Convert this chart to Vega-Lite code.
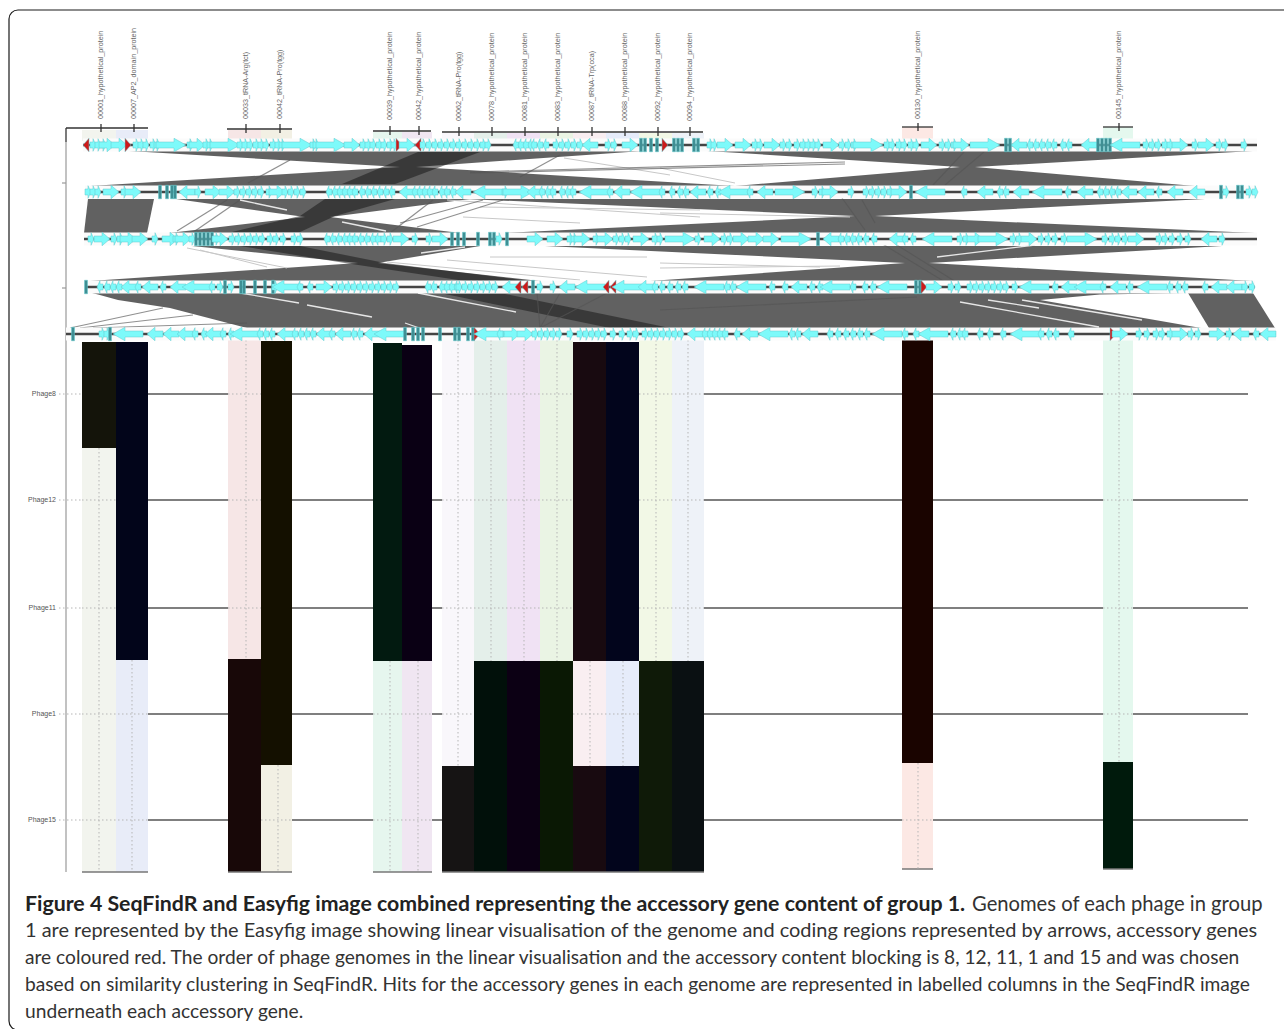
{"$schema":"https://vega.github.io/schema/vega-lite/v6.json","width":1284,"height":1029,"padding":0,"autosize":"none","background":"white","config":{"view":{"stroke":null},"axis":{"disable":true},"legend":{"disable":true},"text":{"font":"Lato"}},
"datasets":{
"cells":[
{"k":"a1","x":82,"x2":116,"y":342,"y2":448},{"k":"b1","x":82,"x2":116,"y":448,"y2":872},
{"k":"a2","x":116,"x2":148,"y":342,"y2":660},{"k":"b2","x":116,"x2":148,"y":660,"y2":872},
{"k":"b3","x":228,"x2":261,"y":340,"y2":659},{"k":"a3","x":228,"x2":261,"y":659,"y2":872},
{"k":"a4","x":261,"x2":292,"y":341,"y2":765},{"k":"b4","x":261,"x2":292,"y":765,"y2":872},
{"k":"a5","x":373,"x2":402,"y":343,"y2":661},{"k":"b5","x":373,"x2":402,"y":661,"y2":872},
{"k":"a6","x":402,"x2":432,"y":345,"y2":661},{"k":"b6","x":402,"x2":432,"y":661,"y2":872},
{"k":"b7","x":442,"x2":474,"y":340,"y2":766},{"k":"a7","x":442,"x2":474,"y":766,"y2":872},
{"k":"b8","x":474,"x2":507,"y":340,"y2":661},{"k":"a8","x":474,"x2":507,"y":661,"y2":872},
{"k":"b9","x":507,"x2":540,"y":340,"y2":661},{"k":"a9","x":507,"x2":540,"y":661,"y2":872},
{"k":"b10","x":540,"x2":573,"y":340,"y2":661},{"k":"a10","x":540,"x2":573,"y":661,"y2":872},
{"k":"a11","x":573,"x2":606,"y":342,"y2":661},{"k":"b11","x":573,"x2":606,"y":661,"y2":766},{"k":"a11","x":573,"x2":606,"y":766,"y2":872},
{"k":"a12","x":606,"x2":639,"y":342,"y2":661},{"k":"b12","x":606,"x2":639,"y":661,"y2":766},{"k":"a12","x":606,"x2":639,"y":766,"y2":872},
{"k":"b13","x":639,"x2":672,"y":340,"y2":661},{"k":"a13","x":639,"x2":672,"y":661,"y2":872},
{"k":"b14","x":672,"x2":704,"y":340,"y2":661},{"k":"a14","x":672,"x2":704,"y":661,"y2":872},
{"k":"a15","x":902,"x2":933,"y":340,"y2":763},{"k":"b15","x":902,"x2":933,"y":763,"y2":869},
{"k":"b16","x":1103,"x2":1133,"y":340,"y2":762},{"k":"a16","x":1103,"x2":1133,"y":762,"y2":869},
{"k":"b1","x":82,"x2":116,"y":130,"y2":141},{"k":"b2","x":116,"x2":148,"y":130,"y2":141},{"k":"b3","x":228,"x2":261,"y":130,"y2":140},{"k":"b4","x":261,"x2":292,"y":130,"y2":140},{"k":"b5","x":373,"x2":402,"y":132,"y2":140},{"k":"b6","x":402,"x2":432,"y":132,"y2":140},{"k":"b7","x":442,"x2":474,"y":133,"y2":140},{"k":"b8","x":474,"x2":507,"y":133,"y2":140},{"k":"b9","x":507,"x2":540,"y":133,"y2":140},{"k":"b10","x":540,"x2":573,"y":133,"y2":140},{"k":"b11","x":573,"x2":606,"y":133,"y2":140},{"k":"b12","x":606,"x2":639,"y":133,"y2":140},{"k":"b13","x":639,"x2":672,"y":133,"y2":140},{"k":"b14","x":672,"x2":704,"y":133,"y2":140},{"k":"b15","x":902,"x2":933,"y":127,"y2":140},{"k":"b16","x":1103,"x2":1133,"y":127,"y2":140}],
"phage":[{"n":"Phage8","y":394,"x":82,"x2":1248,"l":56},{"n":"Phage12","y":500,"x":82,"x2":1248,"l":56},{"n":"Phage11","y":608,"x":82,"x2":1248,"l":56},{"n":"Phage1","y":714,"x":82,"x2":1248,"l":56},{"n":"Phage15","y":820,"x":82,"x2":1248,"l":56}],
"dots":[{"x":59,"x2":82,"y":394,"y2":394},{"x":59,"x2":82,"y":500,"y2":500},{"x":59,"x2":82,"y":608,"y2":608},{"x":59,"x2":82,"y":714,"y2":714},{"x":59,"x2":82,"y":820,"y2":820},
{"x":82,"x2":116,"y":500,"y2":500},{"x":82,"x2":116,"y":608,"y2":608},{"x":82,"x2":148,"y":714,"y2":714},{"x":82,"x2":148,"y":820,"y2":820},{"x":228,"x2":261,"y":394,"y2":394},{"x":228,"x2":261,"y":500,"y2":500},{"x":228,"x2":261,"y":608,"y2":608},{"x":261,"x2":292,"y":820,"y2":820},{"x":373,"x2":432,"y":714,"y2":714},{"x":373,"x2":432,"y":820,"y2":820},{"x":442,"x2":474,"y":394,"y2":394},{"x":442,"x2":474,"y":500,"y2":500},{"x":442,"x2":474,"y":608,"y2":608},{"x":442,"x2":474,"y":714,"y2":714},{"x":474,"x2":573,"y":394,"y2":394},{"x":474,"x2":573,"y":500,"y2":500},{"x":474,"x2":573,"y":608,"y2":608},{"x":573,"x2":639,"y":714,"y2":714},{"x":639,"x2":704,"y":394,"y2":394},{"x":639,"x2":704,"y":500,"y2":500},{"x":639,"x2":704,"y":608,"y2":608},{"x":902,"x2":933,"y":820,"y2":820},{"x":1103,"x2":1133,"y":394,"y2":394},{"x":1103,"x2":1133,"y":500,"y2":500},{"x":1103,"x2":1133,"y":608,"y2":608},{"x":1103,"x2":1133,"y":714,"y2":714},
{"x":99,"x2":99,"y":448,"y2":872},{"x":132,"x2":132,"y":660,"y2":872},{"x":246,"x2":246,"y":340,"y2":659},{"x":278,"x2":278,"y":765,"y2":872},{"x":390,"x2":390,"y":661,"y2":872},{"x":418,"x2":418,"y":661,"y2":872},{"x":458,"x2":458,"y":340,"y2":766},{"x":491,"x2":491,"y":340,"y2":661},{"x":524,"x2":524,"y":340,"y2":661},{"x":557,"x2":557,"y":340,"y2":661},{"x":590,"x2":590,"y":661,"y2":766},{"x":623,"x2":623,"y":661,"y2":766},{"x":656,"x2":656,"y":340,"y2":661},{"x":688,"x2":688,"y":340,"y2":661},{"x":918,"x2":918,"y":763,"y2":869},{"x":1119,"x2":1119,"y":340,"y2":762}],
"bottoms":[{"x":82,"x2":148,"y":872},{"x":228,"x2":292,"y":872},{"x":373,"x2":432,"y":872},{"x":442,"x2":704,"y":872},{"x":902,"x2":933,"y":869},{"x":1103,"x2":1133,"y":869}],
"brackets":[{"x":66,"x2":148,"y":128,"y2":128},{"x":227,"x2":292,"y":129,"y2":129},{"x":373,"x2":431,"y":131,"y2":131},{"x":442,"x2":703,"y":132,"y2":132},{"x":902,"x2":933,"y":127,"y2":127},{"x":1103,"x2":1133,"y":127,"y2":127},
{"x":101,"x2":101,"y":124,"y2":132},{"x":134,"x2":134,"y":124,"y2":132},{"x":246,"x2":246,"y":124,"y2":133},{"x":280,"x2":280,"y":124,"y2":133},{"x":390,"x2":390,"y":126,"y2":135},{"x":419,"x2":419,"y":126,"y2":135},{"x":459,"x2":459,"y":127,"y2":136},{"x":492,"x2":492,"y":127,"y2":136},{"x":525,"x2":525,"y":127,"y2":136},{"x":558,"x2":558,"y":127,"y2":136},{"x":592,"x2":592,"y":127,"y2":136},{"x":625,"x2":625,"y":127,"y2":136},{"x":658,"x2":658,"y":127,"y2":136},{"x":690,"x2":690,"y":127,"y2":136},{"x":918,"x2":918,"y":123,"y2":131},{"x":1119,"x2":1119,"y":123,"y2":131},{"x":66,"x2":66,"y":128,"y2":142}],
"axisl":[{"x":66,"x2":66,"y":142,"y2":872},{"x":62,"x2":66,"y":183,"y2":183},{"x":62,"x2":66,"y":288,"y2":288}],
"ribbons":[
{"r":"a1","y":151,"x":129,"x2":643},{"r":"a1","y":167,"x":400,"x2":416},{"r":"a1","y":186,"x":90,"x2":735},
{"r":"a2","y":151,"x":707,"x2":1253},{"r":"a2","y":167,"x":960,"x2":975},{"r":"a2","y":186,"x":735,"x2":1195},
{"r":"b0","y":199,"x":88,"x2":154},{"r":"b0","y":233,"x":84,"x2":147},
{"r":"b1","y":199,"x":176,"x2":470},{"r":"b1","y":217,"x":305,"x2":330},{"r":"b1","y":233,"x":169,"x2":460},
{"r":"b2","y":199,"x":465,"x2":1205},{"r":"b2","y":216,"x":855,"x2":875},{"r":"b2","y":233,"x":505,"x2":1255},
{"r":"c1","y":246,"x":192,"x2":480},{"r":"c1","y":263,"x":358,"x2":378},{"r":"c1","y":281,"x":90,"x2":540},
{"r":"c2","y":246,"x":545,"x2":1222},{"r":"c2","y":263,"x":905,"x2":929},{"r":"c2","y":281,"x":650,"x2":1253},
{"r":"d1","y":293,"x":92,"x2":1186},{"r":"d1","y":294.5,"x":98,"x2":1100},{"r":"d1","y":300,"x":118,"x2":1040},{"r":"d1","y":308,"x":170,"x2":1086},{"r":"d1","y":328,"x":247,"x2":1201},
{"r":"d2","y":293,"x":1188,"x2":1253},{"r":"d2","y":328,"x":1209,"x2":1275}],
"darks":[
{"r":"e1","y":152,"x":418,"x2":480},{"r":"e1","y":184,"x":342,"x2":395},
{"r":"e2","y":199,"x":325,"x2":395},{"r":"e2","y":216,"x":300,"x2":335},{"r":"e2","y":232,"x":232,"x2":300},
{"r":"e3","y":246,"x":240,"x2":300},{"r":"e3","y":263,"x":345,"x2":385},{"r":"e3","y":281,"x":465,"x2":530},
{"r":"e4","y":294,"x":445,"x2":505},{"r":"e4","y":328,"x":610,"x2":670}],
"thin":[{"x":177,"x2":227,"y":231,"y2":200},{"x":195,"x2":240,"y":231,"y2":200},{"x":248,"x2":290,"y":183,"y2":160},{"x":390,"x2":433,"y":233,"y2":200},{"x":400,"x2":483,"y":223,"y2":200},{"x":417,"x2":503,"y":227,"y2":200},{"x":520,"x2":560,"y":177,"y2":155},{"x":470,"x2":845,"y":172,"y2":162},{"x":470,"x2":845,"y":173,"y2":164},{"x":964,"x2":933,"y":152,"y2":185},{"x":984,"x2":945,"y":152,"y2":185},{"x":842,"x2":865,"y":198,"y2":230},{"x":862,"x2":875,"y":200,"y2":223},{"x":881,"x2":945,"y":243,"y2":282},{"x":897,"x2":956,"y":245,"y2":282},{"x":660,"x2":917,"y":310,"y2":297},{"x":537,"x2":540,"y":293,"y2":328},{"x":560,"x2":540,"y":293,"y2":328},{"x":607,"x2":540,"y":293,"y2":328},{"x":70,"x2":163,"y":328,"y2":308},{"x":80,"x2":193,"y":328,"y2":315},{"x":93,"x2":247,"y":328,"y2":323}],
"faint":[{"x":564,"x2":670,"y":158,"y2":175},{"x":660,"x2":735,"y":168,"y2":183},{"x":447,"x2":700,"y":200,"y2":217},{"x":480,"x2":700,"y":207,"y2":210},{"x":463,"x2":580,"y":217,"y2":223},{"x":660,"x2":850,"y":213,"y2":217},{"x":387,"x2":580,"y":262,"y2":280},{"x":447,"x2":647,"y":260,"y2":277},{"x":490,"x2":647,"y":257,"y2":257},{"x":660,"x2":820,"y":263,"y2":267},{"x":660,"x2":840,"y":268,"y2":266},{"x":187,"x2":287,"y":248,"y2":268},{"x":200,"x2":267,"y":250,"y2":267}],
"gaps":[{"x":240,"x2":299,"y":293,"y2":303},{"x":307,"x2":372,"y":305,"y2":317},{"x":418,"x2":516,"y":293,"y2":312},{"x":405,"x2":425,"y":323,"y2":330},{"x":960,"x2":1099,"y":302,"y2":327},{"x":988,"x2":1039,"y":300,"y2":308},{"x":1022,"x2":1142,"y":300,"y2":320},{"x":240,"x2":287,"y":200,"y2":210},{"x":342,"x2":386,"y":222,"y2":231},{"x":421,"x2":465,"y":253,"y2":247},{"x":937,"x2":1035,"y":257,"y2":245}],
"tracks":[{"y":145,"x":83,"x2":1257},{"y":192,"x":85,"x2":1256},{"y":239,"x":84,"x2":1257},{"y":287,"x":86,"x2":1255},{"y":334,"x":66,"x2":1276}],
"genes":[
{"y":145,"x":86,"k":"RL"},{"y":145,"x":93,"k":"rs"},{"y":145,"x":98,"k":"rs"},{"y":145,"x":103,"k":"rs"},{"y":145,"x":107,"k":"rm"},{"y":145,"x":119,"k":"rm"},{"y":145,"x":128,"k":"RR"},{"y":145,"x":136,"k":"rs"},{"y":145,"x":141,"k":"rs"},{"y":145,"x":146,"k":"rs"},{"y":145,"x":153,"k":"rs"},{"y":145,"x":157,"k":"rs"},{"y":145,"x":171,"k":"rl"},{"y":145,"x":190,"k":"rs"},{"y":145,"x":197,"k":"rm"},{"y":145,"x":206,"k":"rs"},{"y":145,"x":210,"k":"rs"},{"y":145,"x":225,"k":"rl"},{"y":145,"x":240,"k":"rs"},{"y":145,"x":245,"k":"rs"},{"y":145,"x":250,"k":"rs"},{"y":145,"x":256,"k":"rs"},{"y":145,"x":261,"k":"rs"},{"y":145,"x":266,"k":"rs"},{"y":145,"x":273,"k":"rs"},{"y":145,"x":278,"k":"rs"},{"y":145,"x":282,"k":"rs"},{"y":145,"x":297,"k":"rl"},{"y":145,"x":313,"k":"rs"},{"y":145,"x":316,"k":"rs"},{"y":145,"x":331,"k":"rl"},{"y":145,"x":352,"k":"rm"},{"y":145,"x":363,"k":"rs"},{"y":145,"x":368,"k":"rs"},{"y":145,"x":373,"k":"rs"},{"y":145,"x":379,"k":"rs"},{"y":145,"x":384,"k":"rs"},{"y":145,"x":390,"k":"rs"},{"y":145,"x":394,"k":"rs"},{"y":145,"x":399,"k":"RR"},{"y":145,"x":407,"k":"rm"},{"y":145,"x":418,"k":"RL"},{"y":145,"x":423,"k":"rs"},{"y":145,"x":429,"k":"rs"},{"y":145,"x":435,"k":"rs"},{"y":145,"x":441,"k":"rs"},{"y":145,"x":447,"k":"rs"},{"y":145,"x":453,"k":"rs"},{"y":145,"x":459,"k":"rs"},{"y":145,"x":465,"k":"rs"},{"y":145,"x":471,"k":"rs"},{"y":145,"x":477,"k":"rs"},{"y":145,"x":483,"k":"rs"},{"y":145,"x":488,"k":"rs"},{"y":145,"x":516,"k":"ls"},{"y":145,"x":521,"k":"ls"},{"y":145,"x":526,"k":"ls"},{"y":145,"x":531,"k":"ls"},{"y":145,"x":534,"k":"ls"},{"y":145,"x":540,"k":"ls"},{"y":145,"x":546,"k":"ls"},{"y":145,"x":556,"k":"rs"},{"y":145,"x":562,"k":"rs"},{"y":145,"x":568,"k":"rs"},{"y":145,"x":574,"k":"rs"},{"y":145,"x":580,"k":"rs"},{"y":145,"x":590,"k":"lm"},{"y":145,"x":608,"k":"rs"},{"y":145,"x":614,"k":"rs"},{"y":145,"x":630,"k":"rm"},{"y":145,"x":641,"k":"t"},{"y":145,"x":645,"k":"t"},{"y":145,"x":651,"k":"t"},{"y":145,"x":657,"k":"t"},{"y":145,"x":665,"k":"RR"},{"y":145,"x":674,"k":"t"},{"y":145,"x":678,"k":"t"},{"y":145,"x":682,"k":"t"},{"y":145,"x":694,"k":"t"},{"y":145,"x":698,"k":"t"},{"y":145,"x":710,"k":"rs"},{"y":145,"x":714,"k":"rs"},{"y":145,"x":725,"k":"rm"},{"y":145,"x":743,"k":"rm"},{"y":145,"x":755,"k":"rs"},{"y":145,"x":760,"k":"rs"},{"y":145,"x":772,"k":"rm"},{"y":145,"x":783,"k":"rs"},{"y":145,"x":789,"k":"rs"},{"y":145,"x":797,"k":"rs"},{"y":145,"x":803,"k":"rs"},{"y":145,"x":808,"k":"rs"},{"y":145,"x":813,"k":"rs"},{"y":145,"x":818,"k":"rs"},{"y":145,"x":831,"k":"rm"},{"y":145,"x":842,"k":"rs"},{"y":145,"x":848,"k":"rs"},{"y":145,"x":854,"k":"rs"},{"y":145,"x":868,"k":"rl"},{"y":145,"x":887,"k":"rs"},{"y":145,"x":892,"k":"rs"},{"y":145,"x":899,"k":"rs"},{"y":145,"x":904,"k":"rs"},{"y":145,"x":911,"k":"rs"},{"y":145,"x":916,"k":"rs"},{"y":145,"x":929,"k":"rm"},{"y":145,"x":942,"k":"rs"},{"y":145,"x":948,"k":"rs"},{"y":145,"x":954,"k":"rs"},{"y":145,"x":961,"k":"rm"},{"y":145,"x":985,"k":"rl"},{"y":145,"x":1006,"k":"t"},{"y":145,"x":1010,"k":"t"},{"y":145,"x":1019,"k":"lm"},{"y":145,"x":1030,"k":"ls"},{"y":145,"x":1036,"k":"ls"},{"y":145,"x":1042,"k":"ls"},{"y":145,"x":1048,"k":"ls"},{"y":145,"x":1054,"k":"ls"},{"y":145,"x":1063,"k":"ls"},{"y":145,"x":1069,"k":"ls"},{"y":145,"x":1089,"k":"lm"},{"y":145,"x":1098,"k":"t"},{"y":145,"x":1102,"k":"t"},{"y":145,"x":1106,"k":"t"},{"y":145,"x":1110,"k":"t"},{"y":145,"x":1125,"k":"ll"},{"y":145,"x":1146,"k":"rs"},{"y":145,"x":1152,"k":"rs"},{"y":145,"x":1158,"k":"rs"},{"y":145,"x":1165,"k":"rs"},{"y":145,"x":1170,"k":"rs"},{"y":145,"x":1180,"k":"rm"},{"y":145,"x":1195,"k":"rs"},{"y":145,"x":1206,"k":"rm"},{"y":145,"x":1219,"k":"rs"},{"y":145,"x":1225,"k":"rs"},{"y":145,"x":1244,"k":"rs"},
{"y":192,"x":88,"k":"rs"},{"y":192,"x":93,"k":"rs"},{"y":192,"x":98,"k":"rs"},{"y":192,"x":111,"k":"rm"},{"y":192,"x":124,"k":"rs"},{"y":192,"x":133,"k":"rm"},{"y":192,"x":160,"k":"t"},{"y":192,"x":167,"k":"t"},{"y":192,"x":172,"k":"t"},{"y":192,"x":175,"k":"t"},{"y":192,"x":187,"k":"lm"},{"y":192,"x":198,"k":"rs"},{"y":192,"x":213,"k":"rm"},{"y":192,"x":227,"k":"rm"},{"y":192,"x":237,"k":"rs"},{"y":192,"x":243,"k":"rs"},{"y":192,"x":249,"k":"rs"},{"y":192,"x":255,"k":"rs"},{"y":192,"x":261,"k":"rs"},{"y":192,"x":269,"k":"rs"},{"y":192,"x":277,"k":"rm"},{"y":192,"x":285,"k":"rs"},{"y":192,"x":291,"k":"rs"},{"y":192,"x":297,"k":"rs"},{"y":192,"x":303,"k":"rs"},{"y":192,"x":329,"k":"ls"},{"y":192,"x":335,"k":"ls"},{"y":192,"x":340,"k":"ls"},{"y":192,"x":345,"k":"ls"},{"y":192,"x":350,"k":"ls"},{"y":192,"x":355,"k":"ls"},{"y":192,"x":362,"k":"ls"},{"y":192,"x":368,"k":"ls"},{"y":192,"x":374,"k":"ls"},{"y":192,"x":380,"k":"ls"},{"y":192,"x":386,"k":"ls"},{"y":192,"x":392,"k":"ls"},{"y":192,"x":407,"k":"lm"},{"y":192,"x":415,"k":"ls"},{"y":192,"x":420,"k":"ls"},{"y":192,"x":425,"k":"ls"},{"y":192,"x":430,"k":"ls"},{"y":192,"x":435,"k":"ls"},{"y":192,"x":442,"k":"ls"},{"y":192,"x":447,"k":"ls"},{"y":192,"x":453,"k":"ls"},{"y":192,"x":463,"k":"lm"},{"y":192,"x":488,"k":"ll"},{"y":192,"x":505,"k":"rs"},{"y":192,"x":518,"k":"rl"},{"y":192,"x":535,"k":"lm"},{"y":192,"x":542,"k":"ls"},{"y":192,"x":548,"k":"ls"},{"y":192,"x":553,"k":"ls"},{"y":192,"x":562,"k":"ls"},{"y":192,"x":568,"k":"ls"},{"y":192,"x":573,"k":"ls"},{"y":192,"x":594,"k":"ll"},{"y":192,"x":610,"k":"ls"},{"y":192,"x":622,"k":"lm"},{"y":192,"x":645,"k":"ll"},{"y":192,"x":662,"k":"ls"},{"y":192,"x":672,"k":"ls"},{"y":192,"x":680,"k":"ls"},{"y":192,"x":686,"k":"ls"},{"y":192,"x":698,"k":"lm"},{"y":192,"x":710,"k":"ls"},{"y":192,"x":718,"k":"ls"},{"y":192,"x":733,"k":"ll"},{"y":192,"x":750,"k":"ls"},{"y":192,"x":765,"k":"lm"},{"y":192,"x":790,"k":"rl"},{"y":192,"x":815,"k":"rs"},{"y":192,"x":822,"k":"rs"},{"y":192,"x":830,"k":"rm"},{"y":192,"x":851,"k":"rs"},{"y":192,"x":866,"k":"rs"},{"y":192,"x":872,"k":"rs"},{"y":192,"x":878,"k":"rs"},{"y":192,"x":884,"k":"rs"},{"y":192,"x":890,"k":"rs"},{"y":192,"x":899,"k":"rm"},{"y":192,"x":911,"k":"t"},{"y":192,"x":930,"k":"ll"},{"y":192,"x":964,"k":"ls"},{"y":192,"x":985,"k":"lm"},{"y":192,"x":1000,"k":"ls"},{"y":192,"x":1006,"k":"ls"},{"y":192,"x":1021,"k":"lm"},{"y":192,"x":1047,"k":"ll"},{"y":192,"x":1068,"k":"ls"},{"y":192,"x":1085,"k":"lm"},{"y":192,"x":1100,"k":"ls"},{"y":192,"x":1106,"k":"ls"},{"y":192,"x":1112,"k":"ls"},{"y":192,"x":1118,"k":"ls"},{"y":192,"x":1129,"k":"lm"},{"y":192,"x":1146,"k":"lm"},{"y":192,"x":1159,"k":"ls"},{"y":192,"x":1175,"k":"lm"},{"y":192,"x":1197,"k":"lm"},{"y":192,"x":1221,"k":"t"},{"y":192,"x":1226,"k":"rs"},{"y":192,"x":1238,"k":"t"},{"y":192,"x":1242,"k":"t"},{"y":192,"x":1249,"k":"rs"},{"y":192,"x":1255,"k":"rs"},
{"y":239,"x":91,"k":"rs"},{"y":239,"x":102,"k":"rm"},{"y":239,"x":114,"k":"rs"},{"y":239,"x":120,"k":"rs"},{"y":239,"x":128,"k":"rm"},{"y":239,"x":140,"k":"rm"},{"y":239,"x":155,"k":"rs"},{"y":239,"x":170,"k":"rm"},{"y":239,"x":176,"k":"rs"},{"y":239,"x":183,"k":"rm"},{"y":239,"x":192,"k":"rs"},{"y":239,"x":196,"k":"t"},{"y":239,"x":200,"k":"t"},{"y":239,"x":204,"k":"t"},{"y":239,"x":208,"k":"t"},{"y":239,"x":212,"k":"t"},{"y":239,"x":216,"k":"rs"},{"y":239,"x":220,"k":"rm"},{"y":239,"x":232,"k":"rs"},{"y":239,"x":238,"k":"rs"},{"y":239,"x":244,"k":"rs"},{"y":239,"x":250,"k":"rs"},{"y":239,"x":256,"k":"rs"},{"y":239,"x":262,"k":"rs"},{"y":239,"x":270,"k":"rs"},{"y":239,"x":276,"k":"rs"},{"y":239,"x":283,"k":"rs"},{"y":239,"x":294,"k":"rs"},{"y":239,"x":300,"k":"rs"},{"y":239,"x":327,"k":"ls"},{"y":239,"x":333,"k":"ls"},{"y":239,"x":339,"k":"ls"},{"y":239,"x":345,"k":"ls"},{"y":239,"x":350,"k":"ls"},{"y":239,"x":355,"k":"ls"},{"y":239,"x":361,"k":"ls"},{"y":239,"x":367,"k":"ls"},{"y":239,"x":373,"k":"ls"},{"y":239,"x":378,"k":"ls"},{"y":239,"x":384,"k":"rs"},{"y":239,"x":390,"k":"rs"},{"y":239,"x":401,"k":"rm"},{"y":239,"x":415,"k":"rs"},{"y":239,"x":429,"k":"rs"},{"y":239,"x":440,"k":"rm"},{"y":239,"x":452,"k":"t"},{"y":239,"x":458,"k":"t"},{"y":239,"x":464,"k":"t"},{"y":239,"x":478,"k":"t"},{"y":239,"x":490,"k":"t"},{"y":239,"x":494,"k":"t"},{"y":239,"x":499,"k":"rs"},{"y":239,"x":507,"k":"t"},{"y":239,"x":535,"k":"rm"},{"y":239,"x":555,"k":"rm"},{"y":239,"x":570,"k":"rs"},{"y":239,"x":574,"k":"rs"},{"y":239,"x":582,"k":"rm"},{"y":239,"x":596,"k":"rs"},{"y":239,"x":605,"k":"rm"},{"y":239,"x":616,"k":"rs"},{"y":239,"x":622,"k":"rs"},{"y":239,"x":628,"k":"rs"},{"y":239,"x":641,"k":"rm"},{"y":239,"x":655,"k":"rs"},{"y":239,"x":660,"k":"rs"},{"y":239,"x":680,"k":"rl"},{"y":239,"x":698,"k":"rs"},{"y":239,"x":712,"k":"rm"},{"y":239,"x":724,"k":"rs"},{"y":239,"x":730,"k":"rs"},{"y":239,"x":741,"k":"rm"},{"y":239,"x":756,"k":"rm"},{"y":239,"x":771,"k":"rm"},{"y":239,"x":796,"k":"rl"},{"y":239,"x":818,"k":"t"},{"y":239,"x":831,"k":"lm"},{"y":239,"x":841,"k":"ls"},{"y":239,"x":847,"k":"ls"},{"y":239,"x":853,"k":"ls"},{"y":239,"x":859,"k":"ls"},{"y":239,"x":866,"k":"ls"},{"y":239,"x":874,"k":"ls"},{"y":239,"x":897,"k":"lm"},{"y":239,"x":905,"k":"ls"},{"y":239,"x":913,"k":"ls"},{"y":239,"x":937,"k":"ll"},{"y":239,"x":960,"k":"rs"},{"y":239,"x":966,"k":"rs"},{"y":239,"x":975,"k":"rm"},{"y":239,"x":993,"k":"rl"},{"y":239,"x":1013,"k":"rs"},{"y":239,"x":1019,"k":"rs"},{"y":239,"x":1029,"k":"rm"},{"y":239,"x":1041,"k":"rs"},{"y":239,"x":1048,"k":"rs"},{"y":239,"x":1055,"k":"rs"},{"y":239,"x":1064,"k":"rs"},{"y":239,"x":1082,"k":"rl"},{"y":239,"x":1105,"k":"rs"},{"y":239,"x":1112,"k":"rs"},{"y":239,"x":1118,"k":"rs"},{"y":239,"x":1125,"k":"rs"},{"y":239,"x":1136,"k":"rm"},{"y":239,"x":1159,"k":"rs"},{"y":239,"x":1165,"k":"rs"},{"y":239,"x":1172,"k":"rs"},{"y":239,"x":1180,"k":"rs"},{"y":239,"x":1188,"k":"rs"},{"y":239,"x":1209,"k":"lm"},{"y":239,"x":1222,"k":"rs"},
{"y":287,"x":86,"k":"t"},{"y":287,"x":100,"k":"ls"},{"y":287,"x":107,"k":"ls"},{"y":287,"x":113,"k":"ls"},{"y":287,"x":119,"k":"ls"},{"y":287,"x":129,"k":"lm"},{"y":287,"x":138,"k":"ls"},{"y":287,"x":150,"k":"lm"},{"y":287,"x":163,"k":"ls"},{"y":287,"x":178,"k":"lm"},{"y":287,"x":197,"k":"ll"},{"y":287,"x":212,"k":"ls"},{"y":287,"x":220,"k":"rs"},{"y":287,"x":225,"k":"t"},{"y":287,"x":231,"k":"rs"},{"y":287,"x":241,"k":"t"},{"y":287,"x":244,"k":"t"},{"y":287,"x":255,"k":"t"},{"y":287,"x":265,"k":"t"},{"y":287,"x":273,"k":"t"},{"y":287,"x":275,"k":"rs"},{"y":287,"x":287,"k":"ll"},{"y":287,"x":300,"k":"ls"},{"y":287,"x":310,"k":"ls"},{"y":287,"x":324,"k":"rm"},{"y":287,"x":336,"k":"rs"},{"y":287,"x":342,"k":"rs"},{"y":287,"x":348,"k":"rs"},{"y":287,"x":354,"k":"rs"},{"y":287,"x":360,"k":"rs"},{"y":287,"x":366,"k":"rs"},{"y":287,"x":372,"k":"rs"},{"y":287,"x":378,"k":"rs"},{"y":287,"x":384,"k":"rs"},{"y":287,"x":390,"k":"rs"},{"y":287,"x":396,"k":"rs"},{"y":287,"x":428,"k":"ls"},{"y":287,"x":434,"k":"ls"},{"y":287,"x":442,"k":"ls"},{"y":287,"x":447,"k":"ls"},{"y":287,"x":452,"k":"ls"},{"y":287,"x":457,"k":"ls"},{"y":287,"x":459,"k":"rs"},{"y":287,"x":465,"k":"rs"},{"y":287,"x":471,"k":"rs"},{"y":287,"x":477,"k":"rs"},{"y":287,"x":483,"k":"rs"},{"y":287,"x":489,"k":"rs"},{"y":287,"x":495,"k":"rs"},{"y":287,"x":510,"k":"lm"},{"y":287,"x":518,"k":"RL"},{"y":287,"x":525,"k":"RL"},{"y":287,"x":533,"k":"t"},{"y":287,"x":540,"k":"rs"},{"y":287,"x":553,"k":"rs"},{"y":287,"x":567,"k":"lm"},{"y":287,"x":590,"k":"ll"},{"y":287,"x":606,"k":"RL"},{"y":287,"x":613,"k":"RL"},{"y":287,"x":627,"k":"ll"},{"y":287,"x":646,"k":"lm"},{"y":287,"x":655,"k":"ls"},{"y":287,"x":662,"k":"ls"},{"y":287,"x":670,"k":"ls"},{"y":287,"x":678,"k":"ls"},{"y":287,"x":685,"k":"ls"},{"y":287,"x":709,"k":"ll"},{"y":287,"x":727,"k":"ls"},{"y":287,"x":733,"k":"ls"},{"y":287,"x":751,"k":"ll"},{"y":287,"x":772,"k":"ls"},{"y":287,"x":785,"k":"ls"},{"y":287,"x":799,"k":"lm"},{"y":287,"x":812,"k":"ls"},{"y":287,"x":820,"k":"ls"},{"y":287,"x":835,"k":"ll"},{"y":287,"x":853,"k":"ls"},{"y":287,"x":865,"k":"ls"},{"y":287,"x":873,"k":"ls"},{"y":287,"x":892,"k":"ll"},{"y":287,"x":916,"k":"t"},{"y":287,"x":920,"k":"t"},{"y":287,"x":924,"k":"RR"},{"y":287,"x":934,"k":"rm"},{"y":287,"x":951,"k":"rs"},{"y":287,"x":958,"k":"rs"},{"y":287,"x":970,"k":"rs"},{"y":287,"x":976,"k":"rs"},{"y":287,"x":982,"k":"rs"},{"y":287,"x":988,"k":"rs"},{"y":287,"x":994,"k":"rs"},{"y":287,"x":1000,"k":"rs"},{"y":287,"x":1006,"k":"rs"},{"y":287,"x":1015,"k":"rs"},{"y":287,"x":1034,"k":"ll"},{"y":287,"x":1055,"k":"ls"},{"y":287,"x":1069,"k":"lm"},{"y":287,"x":1089,"k":"ll"},{"y":287,"x":1103,"k":"ls"},{"y":287,"x":1118,"k":"lm"},{"y":287,"x":1130,"k":"ls"},{"y":287,"x":1152,"k":"ll"},{"y":287,"x":1170,"k":"ls"},{"y":287,"x":1178,"k":"ls"},{"y":287,"x":1185,"k":"ls"},{"y":287,"x":1205,"k":"ls"},{"y":287,"x":1219,"k":"lm"},{"y":287,"x":1234,"k":"lm"},{"y":287,"x":1245,"k":"rs"},{"y":287,"x":1252,"k":"rs"},
{"y":334,"x":73,"k":"t"},{"y":334,"x":102,"k":"rs"},{"y":334,"x":107,"k":"rs"},{"y":334,"x":110,"k":"t"},{"y":334,"x":128,"k":"ll"},{"y":334,"x":155,"k":"lm"},{"y":334,"x":171,"k":"lm"},{"y":334,"x":185,"k":"lm"},{"y":334,"x":195,"k":"ls"},{"y":334,"x":204,"k":"ls"},{"y":334,"x":213,"k":"lm"},{"y":334,"x":223,"k":"ls"},{"y":334,"x":231,"k":"ls"},{"y":334,"x":245,"k":"ll"},{"y":334,"x":260,"k":"ls"},{"y":334,"x":266,"k":"ls"},{"y":334,"x":272,"k":"ls"},{"y":334,"x":285,"k":"lm"},{"y":334,"x":295,"k":"ls"},{"y":334,"x":301,"k":"ls"},{"y":334,"x":307,"k":"ls"},{"y":334,"x":313,"k":"ls"},{"y":334,"x":324,"k":"lm"},{"y":334,"x":332,"k":"ls"},{"y":334,"x":343,"k":"lm"},{"y":334,"x":354,"k":"ls"},{"y":334,"x":360,"k":"ls"},{"y":334,"x":372,"k":"lm"},{"y":334,"x":389,"k":"ll"},{"y":334,"x":405,"k":"t"},{"y":334,"x":413,"k":"t"},{"y":334,"x":418,"k":"t"},{"y":334,"x":423,"k":"t"},{"y":334,"x":440,"k":"t"},{"y":334,"x":455,"k":"t"},{"y":334,"x":459,"k":"t"},{"y":334,"x":468,"k":"t"},{"y":334,"x":473,"k":"t"},{"y":334,"x":477,"k":"RR"},{"y":334,"x":489,"k":"ll"},{"y":334,"x":500,"k":"ls"},{"y":334,"x":512,"k":"rm"},{"y":334,"x":525,"k":"rm"},{"y":334,"x":535,"k":"rs"},{"y":334,"x":541,"k":"rs"},{"y":334,"x":547,"k":"rs"},{"y":334,"x":553,"k":"rs"},{"y":334,"x":559,"k":"rs"},{"y":334,"x":570,"k":"rs"},{"y":334,"x":580,"k":"rs"},{"y":334,"x":586,"k":"rs"},{"y":334,"x":592,"k":"rs"},{"y":334,"x":598,"k":"rs"},{"y":334,"x":604,"k":"rs"},{"y":334,"x":613,"k":"rs"},{"y":334,"x":622,"k":"rs"},{"y":334,"x":630,"k":"rs"},{"y":334,"x":636,"k":"rs"},{"y":334,"x":645,"k":"rs"},{"y":334,"x":651,"k":"rs"},{"y":334,"x":657,"k":"rs"},{"y":334,"x":663,"k":"rs"},{"y":334,"x":669,"k":"rs"},{"y":334,"x":675,"k":"rs"},{"y":334,"x":681,"k":"rs"},{"y":334,"x":695,"k":"lm"},{"y":334,"x":705,"k":"ls"},{"y":334,"x":710,"k":"ls"},{"y":334,"x":715,"k":"ls"},{"y":334,"x":720,"k":"ls"},{"y":334,"x":725,"k":"ls"},{"y":334,"x":737,"k":"ls"},{"y":334,"x":750,"k":"lm"},{"y":334,"x":773,"k":"ll"},{"y":334,"x":792,"k":"ls"},{"y":334,"x":798,"k":"ls"},{"y":334,"x":810,"k":"lm"},{"y":334,"x":830,"k":"ls"},{"y":334,"x":838,"k":"ls"},{"y":334,"x":846,"k":"ls"},{"y":334,"x":853,"k":"ls"},{"y":334,"x":860,"k":"ls"},{"y":334,"x":867,"k":"ls"},{"y":334,"x":887,"k":"ll"},{"y":334,"x":905,"k":"ls"},{"y":334,"x":916,"k":"ls"},{"y":334,"x":933,"k":"ll"},{"y":334,"x":953,"k":"ls"},{"y":334,"x":960,"k":"ls"},{"y":334,"x":965,"k":"ls"},{"y":334,"x":980,"k":"ls"},{"y":334,"x":990,"k":"ls"},{"y":334,"x":1003,"k":"ls"},{"y":334,"x":1025,"k":"ll"},{"y":334,"x":1041,"k":"ls"},{"y":334,"x":1049,"k":"ls"},{"y":334,"x":1056,"k":"ls"},{"y":334,"x":1071,"k":"ls"},{"y":334,"x":1113,"k":"RR"},{"y":334,"x":1120,"k":"rm"},{"y":334,"x":1139,"k":"rs"},{"y":334,"x":1147,"k":"rs"},{"y":334,"x":1156,"k":"rs"},{"y":334,"x":1162,"k":"rs"},{"y":334,"x":1170,"k":"rs"},{"y":334,"x":1180,"k":"rm"},{"y":334,"x":1191,"k":"rs"},{"y":334,"x":1198,"k":"rs"},{"y":334,"x":1217,"k":"rm"},{"y":334,"x":1229,"k":"rs"},{"y":334,"x":1241,"k":"lm"},{"y":334,"x":1256,"k":"ls"},{"y":334,"x":1268,"k":"lm"}],
"genelabels":[{"x":101,"y":119,"t":"00001_hypothetical_protein"},{"x":134,"y":119,"t":"00007_AP2_domain_protein"},{"x":246,"y":119,"t":"00033_tRNA-Arg(tct)"},{"x":280,"y":119,"t":"00042_tRNA-Pro(tgg)"},{"x":390,"y":120,"t":"00039_hypothetical_protein"},{"x":419,"y":120,"t":"00042_hypothetical_protein"},{"x":459,"y":121,"t":"00062_tRNA-Pro(tgg)"},{"x":492,"y":121,"t":"00078_hypothetical_protein"},{"x":525,"y":121,"t":"00081_hypothetical_protein"},{"x":558,"y":121,"t":"00083_hypothetical_protein"},{"x":592,"y":121,"t":"00087_tRNA-Trp(cca)"},{"x":625,"y":121,"t":"00088_hypothetical_protein"},{"x":658,"y":121,"t":"00092_hypothetical_protein"},{"x":690,"y":121,"t":"00094_hypothetical_protein"},{"x":918,"y":119,"t":"00130_hypothetical_protein"},{"x":1119,"y":119,"t":"00145_hypothetical_protein"}],
"capbold":[{"x":25,"y":911,"t":"Figure 4 SeqFindR and Easyfig image combined representing the accessory gene content of group 1."}],
"cap":[{"line":1,"x":972,"y":911,"t":"Genomes of each phage in group"},{"line":2,"x":25,"y":937,"t":"1 are represented by the Easyfig image showing linear visualisation of the genome and coding regions represented by arrows, accessory genes"},{"line":3,"x":25,"y":964,"t":"are coloured red. The order of phage genomes in the linear visualisation and the accessory content blocking is 8, 12, 11, 1 and 15 and was chosen"},{"line":4,"x":25,"y":991,"t":"based on similarity clustering in SeqFindR. Hits for the accessory genes in each genome are represented in labelled columns in the SeqFindR image"},{"line":5,"x":25,"y":1018,"t":"underneath each accessory gene."}],
"frame":[{"x":9,"x2":1320,"y":10,"y2":1030}]
},
"encoding":{"x":{"field":"x","type":"quantitative","scale":{"domain":[0,1284],"range":[0,1284],"nice":false,"zero":false}},"y":{"field":"y","type":"quantitative","scale":{"domain":[0,1029],"range":[0,1029],"nice":false,"zero":false}}},
"resolve":{"scale":{"color":"independent"}},
"layer":[
{"data":{"name":"frame"},"mark":{"type":"rect","fill":"white","stroke":"#1a1a1a","strokeWidth":1.2,"cornerRadius":9},"encoding":{"x2":{"field":"x2"},"y2":{"field":"y2"}}},
{"data":{"name":"axisl"},"mark":{"type":"rule","color":"#999","strokeWidth":1.2},"encoding":{"x2":{"field":"x2"},"y2":{"field":"y2"}}},
{"data":{"name":"phage"},"mark":{"type":"rule","color":"#555","strokeWidth":1.6},"encoding":{"x2":{"field":"x2"}}},
{"data":{"name":"cells"},"mark":{"type":"rect"},"encoding":{"x2":{"field":"x2"},"y2":{"field":"y2"},"color":{"field":"k","type":"nominal","scale":{"domain":["a1","a2","a3","a4","a5","a6","a7","a8","a9","a10","a11","a12","a13","a14","a15","a16","b1","b2","b3","b4","b5","b6","b7","b8","b9","b10","b11","b12","b13","b14","b15","b16"],"range":["#14140a","#02051a","#180808","#141000","#021a10","#0a0014","#161414","#01100a","#0c0014","#0a1804","#180a10","#02051c","#0f1a08","#0a1012","#1a0400","#001a0c","#f2f4ee","#e8ecf8","#f6e6e6","#f2f0e4","#e6f6ee","#f0e6f2","#f9f7fb","#e4efea","#f0e2f4","#eaf4e4","#f9eef1","#e6ecfa","#f2f8e6","#eef2f8","#fce8e4","#e4f8ee"]}}}},
{"data":{"name":"bottoms"},"mark":{"type":"rule","color":"#777","strokeWidth":1.5},"encoding":{"x2":{"field":"x2"}}},
{"data":{"name":"dots"},"mark":{"type":"rule","color":"#b5b5b5","strokeWidth":1,"strokeDash":[1.5,2.5]},"encoding":{"x2":{"field":"x2"},"y2":{"field":"y2"}}},
{"data":{"name":"phage"},"mark":{"type":"text","align":"right","baseline":"middle","fontSize":7,"color":"#555","font":"Liberation Sans"},"encoding":{"x":{"field":"l","type":"quantitative","scale":{"domain":[0,1284],"range":[0,1284],"nice":false,"zero":false}},"text":{"field":"n"}}},
{"data":{"name":"ribbons"},"mark":{"type":"area","orient":"horizontal","color":"#5b5b5b","opacity":0.96},"encoding":{"x2":{"field":"x2"},"detail":{"field":"r"}}},
{"data":{"name":"darks"},"mark":{"type":"area","orient":"horizontal","color":"#111","opacity":0.5},"encoding":{"x2":{"field":"x2"},"detail":{"field":"r"}}},
{"data":{"name":"faint"},"mark":{"type":"rule","color":"#c8c8c8","strokeWidth":1},"encoding":{"x2":{"field":"x2"},"y2":{"field":"y2"}}},
{"data":{"name":"thin"},"mark":{"type":"rule","color":"#555","strokeWidth":1.2,"opacity":0.65},"encoding":{"x2":{"field":"x2"},"y2":{"field":"y2"}}},
{"data":{"name":"gaps"},"mark":{"type":"rule","color":"#e6e6e6","strokeWidth":1.3},"encoding":{"x2":{"field":"x2"},"y2":{"field":"y2"}}},
{"data":{"name":"brackets"},"mark":{"type":"rule","color":"#333","strokeWidth":1.3},"encoding":{"x2":{"field":"x2"},"y2":{"field":"y2"}}},
{"data":{"name":"tracks"},"mark":{"type":"rule","color":"#fbfbfb","strokeWidth":13},"encoding":{"x2":{"field":"x2"}}},
{"data":{"name":"tracks"},"mark":{"type":"rule","color":"#444","strokeWidth":2.4},"encoding":{"x2":{"field":"x2"}}},
{"data":{"name":"genes"},"mark":{"type":"point","filled":true,"size":900,"opacity":1,"stroke":"#63c8cc","strokeWidth":0.5},"encoding":{
"shape":{"field":"k","type":"nominal","scale":{"domain":["rl","rm","rs","ll","lm","ls","t","RR","RL"],"range":["M-1,-.2L.2,-.2L.2,-.45L1,0L.2,.45L.2,.2L-1,.2Z","M-.53,-.2L0,-.2L0,-.45L.53,0L0,.45L0,.2L-.53,.2Z","M-.2,-.2L0,-.2L0,-.42L.2,0L0,.42L0,.2L-.2,.2Z","M1,-.2L-.2,-.2L-.2,-.45L-1,0L-.2,.45L-.2,.2L1,.2Z","M.53,-.2L0,-.2L0,-.45L-.53,0L0,.45L0,.2L.53,.2Z","M.2,-.2L0,-.2L0,-.42L-.2,0L0,.42L0,.2L.2,.2Z","M-.1,-.45H.1V.45H-.1Z","M-.2,-.45L.2,0L-.2,.45Z","M.2,-.45L-.2,0L.2,.45Z"]}},
"color":{"field":"k","type":"nominal","scale":{"domain":["rl","rm","rs","ll","lm","ls","t","RR","RL"],"range":["#7dfafa","#7dfafa","#7dfafa","#7dfafa","#7dfafa","#7dfafa","#3f8f94","#cc1b1b","#cc1b1b"]}}}},
{"data":{"name":"genelabels"},"mark":{"type":"text","angle":270,"align":"left","baseline":"middle","fontSize":7.2,"color":"#666","font":"Liberation Sans"},"encoding":{"text":{"field":"t"}}},
{"data":{"name":"capbold"},"mark":{"type":"text","align":"left","baseline":"alphabetic","fontSize":21.3,"fontWeight":"bold","color":"#222","font":"Lato"},"encoding":{"text":{"field":"t"}}},
{"data":{"name":"cap"},"mark":{"type":"text","align":"left","baseline":"alphabetic","color":"#333","font":"Lato"},"encoding":{"text":{"field":"t"},"size":{"field":"line","type":"nominal","scale":{"type":"ordinal","domain":[1,2,3,4,5],"range":[20.2,19.94,19.17,19.2,19.2]}}}}
]}
